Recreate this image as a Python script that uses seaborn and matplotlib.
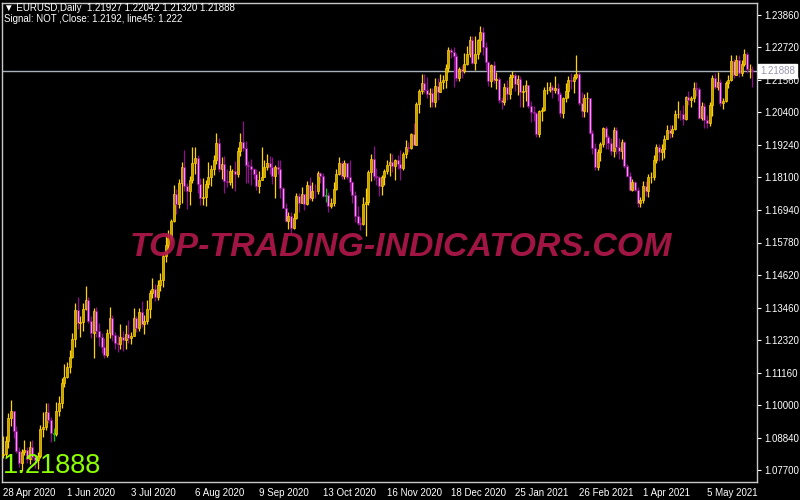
import matplotlib
matplotlib.use("Agg")
import matplotlib.pyplot as plt
import seaborn as sns

# EURUSD daily bars, 28 Apr 2020 .. 28 May 2021
symbol = "EURUSD,Daily"
last_ohlc = [1.21927, 1.22042, 1.21320, 1.21888]
first_open = 1.0822

closes = [
    1.0826, 1.0874, 1.0954, 1.0980, 1.0907, 1.0838, 1.0795, 1.0834, 1.0840, 1.0807,
    1.0850, 1.0816, 1.0804, 1.0819, 1.0916, 1.0922, 1.0975, 1.0947, 1.0900, 1.0899,
    1.0980, 1.1007, 1.1078, 1.1100, 1.1134, 1.1172, 1.1234, 1.1337, 1.1292, 1.1294,
    1.1343, 1.1373, 1.1300, 1.1256, 1.1333, 1.1264, 1.1242, 1.1205, 1.1178, 1.1257,
    1.1308, 1.1250, 1.1220, 1.1219, 1.1241, 1.1233, 1.1252, 1.1240, 1.1245, 1.1309,
    1.1275, 1.1330, 1.1288, 1.1300, 1.1342, 1.1398, 1.1413, 1.1383, 1.1428, 1.1445,
    1.1530, 1.1570, 1.1595, 1.1655, 1.1752, 1.1716, 1.1791, 1.1847, 1.1778, 1.1762,
    1.1799, 1.1862, 1.1877, 1.1787, 1.1736, 1.1738, 1.1786, 1.1812, 1.1840, 1.1870,
    1.1930, 1.1838, 1.1857, 1.1796, 1.1792, 1.1832, 1.1832, 1.1821, 1.1903, 1.1935,
    1.1913, 1.1855, 1.1850, 1.1838, 1.1821, 1.1777, 1.1801, 1.1812, 1.1846, 1.1861,
    1.1846, 1.1813, 1.1848, 1.1840, 1.1770, 1.1701, 1.1656, 1.1671, 1.1631, 1.1665,
    1.1745, 1.1720, 1.1750, 1.1715, 1.1782, 1.1735, 1.1762, 1.1760, 1.1826, 1.1813,
    1.1743, 1.1746, 1.1706, 1.1718, 1.1769, 1.1822, 1.1862, 1.1815, 1.1859, 1.1812,
    1.1794, 1.1747, 1.1673, 1.1646, 1.1642, 1.1715, 1.1723, 1.1828, 1.1875, 1.1815,
    1.1811, 1.1779, 1.1809, 1.1833, 1.1852, 1.1864, 1.1851, 1.1871, 1.1857, 1.1843,
    1.1893, 1.1916, 1.1914, 1.1962, 1.1926, 1.2070, 1.2116, 1.2145, 1.2120, 1.2107,
    1.2109, 1.2079, 1.2133, 1.2113, 1.2148, 1.2154, 1.2198, 1.2263, 1.2255, 1.2240,
    1.2163, 1.2193, 1.2186, 1.2214, 1.2247, 1.2298, 1.2216, 1.2248, 1.2298, 1.2327,
    1.2271, 1.2220, 1.2151, 1.2207, 1.2156, 1.2158, 1.2083, 1.2078, 1.2130, 1.2106,
    1.2166, 1.2172, 1.2140, 1.2159, 1.2113, 1.2116, 1.2136, 1.2062, 1.2041, 1.2038,
    1.1962, 1.2045, 1.2050, 1.2119, 1.2120, 1.2132, 1.2120, 1.2127, 1.2105, 1.2039,
    1.2091, 1.2118, 1.2155, 1.2151, 1.2167, 1.2175, 1.2075, 1.2046, 1.2090, 1.2091,
    1.1966, 1.1915, 1.1846, 1.1901, 1.1928, 1.1985, 1.1953, 1.1931, 1.1902, 1.1976,
    1.1916, 1.1904, 1.1934, 1.1851, 1.1815, 1.1765, 1.1794, 1.1764, 1.1718, 1.1728,
    1.1778, 1.1762, 1.1812, 1.1812, 1.1871, 1.1916, 1.1900, 1.1912, 1.1946, 1.1979,
    1.1966, 1.1983, 1.2036, 1.2036, 1.2033, 1.2016, 1.2096, 1.2083, 1.2091, 1.2126,
    1.2125, 1.2021, 1.2062, 1.2015, 1.2004, 1.2066, 1.2164, 1.2130, 1.2150, 1.2074,
    1.2080, 1.2145, 1.2155, 1.2224, 1.2174, 1.2225, 1.2180, 1.2213, 1.2249, 1.2193,
    1.2193, 1.21888,
]

highs = [
    1.0890, 1.0890, 1.0972, 1.1019, 1.0980, 1.0926, 1.0852, 1.0843, 1.0875, 1.0853,
    1.0872, 1.0875, 1.0817, 1.0835, 1.0928, 1.0975, 1.1008, 1.1009, 1.0957, 1.0920,
    1.1010, 1.1032, 1.1098, 1.1145, 1.1155, 1.1197, 1.1257, 1.1362, 1.1384, 1.1318,
    1.1362, 1.1422, 1.1385, 1.1316, 1.1347, 1.1350, 1.1292, 1.1258, 1.1240, 1.1272,
    1.1349, 1.1320, 1.1260, 1.1250, 1.1289, 1.1262, 1.1284, 1.1302, 1.1260, 1.1346,
    1.1318, 1.1346, 1.1371, 1.1320, 1.1375, 1.1410, 1.1452, 1.1430, 1.1446, 1.1469,
    1.1540, 1.1601, 1.1621, 1.1661, 1.1781, 1.1769, 1.1805, 1.1863, 1.1908, 1.1790,
    1.1815, 1.1916, 1.1916, 1.1890, 1.1808, 1.1808, 1.1800, 1.1864, 1.1853, 1.1888,
    1.1966, 1.1951, 1.1883, 1.1884, 1.1838, 1.1852, 1.1840, 1.1867, 1.1916, 1.1966,
    1.2011, 1.1937, 1.1868, 1.1876, 1.1843, 1.1838, 1.1831, 1.1917, 1.1871, 1.1893,
    1.1887, 1.1882, 1.1852, 1.1872, 1.1872, 1.1776, 1.1718, 1.1688, 1.1686, 1.1682,
    1.1753, 1.1754, 1.1775, 1.1749, 1.1797, 1.1810, 1.1794, 1.1786, 1.1831, 1.1830,
    1.1824, 1.1771, 1.1759, 1.1736, 1.1793, 1.1840, 1.1881, 1.1868, 1.1870, 1.1860,
    1.1870, 1.1798, 1.1760, 1.1707, 1.1669, 1.1741, 1.1770, 1.1836, 1.1891, 1.1920,
    1.1843, 1.1815, 1.1818, 1.1840, 1.1870, 1.1895, 1.1891, 1.1876, 1.1890, 1.1905,
    1.1901, 1.1941, 1.1935, 1.1966, 1.2004, 1.2077, 1.2122, 1.2176, 1.2177, 1.2167,
    1.2128, 1.2126, 1.2163, 1.2162, 1.2177, 1.2174, 1.2212, 1.2273, 1.2269, 1.2272,
    1.2250, 1.2200, 1.2210, 1.2250, 1.2276, 1.2310, 1.2310, 1.2310, 1.2302, 1.2349,
    1.2343, 1.2289, 1.2224, 1.2214, 1.2222, 1.2185, 1.2165, 1.2095, 1.2145, 1.2155,
    1.2175, 1.2189, 1.2180, 1.2173, 1.2169, 1.2138, 1.2156, 1.2138, 1.2082, 1.2062,
    1.2041, 1.2050, 1.2060, 1.2130, 1.2150, 1.2149, 1.2136, 1.2169, 1.2144, 1.2113,
    1.2095, 1.2144, 1.2170, 1.2180, 1.2177, 1.2243, 1.2183, 1.2113, 1.2107, 1.2114,
    1.2093, 1.1976, 1.1932, 1.1910, 1.1935, 1.1990, 1.1992, 1.1960, 1.1951, 1.1989,
    1.1990, 1.1950, 1.1946, 1.1940, 1.1858, 1.1830, 1.1803, 1.1795, 1.1776, 1.1739,
    1.1797, 1.1798, 1.1820, 1.1827, 1.1888, 1.1927, 1.1928, 1.1927, 1.1959, 1.1995,
    1.1994, 1.1994, 1.2048, 1.2080, 1.2050, 1.2068, 1.2100, 1.2116, 1.2100, 1.2150,
    1.2150, 1.2130, 1.2078, 1.2075, 1.2030, 1.2078, 1.2172, 1.2181, 1.2183, 1.2160,
    1.2093, 1.2152, 1.2172, 1.2245, 1.2230, 1.2243, 1.2245, 1.2228, 1.2266, 1.2254,
    1.2213, 1.22042,
]

lows = [
    1.0812, 1.0815, 1.0847, 1.0925, 1.0884, 1.0830, 1.0782, 1.0767, 1.0822, 1.0793,
    1.0790, 1.0806, 1.0775, 1.0774, 1.0812, 1.0887, 1.0910, 1.0936, 1.0870, 1.0871,
    1.0890, 1.0960, 1.0990, 1.1065, 1.1095, 1.1115, 1.1167, 1.1208, 1.1270, 1.1243,
    1.1263, 1.1338, 1.1292, 1.1239, 1.1168, 1.1243, 1.1211, 1.1186, 1.1168, 1.1170,
    1.1240, 1.1229, 1.1198, 1.1190, 1.1198, 1.1192, 1.1199, 1.1222, 1.1218, 1.1248,
    1.1260, 1.1262, 1.1276, 1.1254, 1.1290, 1.1310, 1.1380, 1.1370, 1.1374, 1.1404,
    1.1421, 1.1510, 1.1550, 1.1583, 1.1651, 1.1680, 1.1700, 1.1720, 1.1760, 1.1696,
    1.1711, 1.1790, 1.1822, 1.1755, 1.1713, 1.1711, 1.1709, 1.1773, 1.1780, 1.1819,
    1.1856, 1.1828, 1.1802, 1.1753, 1.1776, 1.1784, 1.1770, 1.1762, 1.1811, 1.1887,
    1.1904, 1.1789, 1.1790, 1.1781, 1.1803, 1.1765, 1.1753, 1.1800, 1.1812, 1.1836,
    1.1822, 1.1787, 1.1737, 1.1821, 1.1736, 1.1699, 1.1650, 1.1627, 1.1612, 1.1625,
    1.1660, 1.1685, 1.1717, 1.1695, 1.1710, 1.1730, 1.1726, 1.1735, 1.1751, 1.1789,
    1.1738, 1.1723, 1.1688, 1.1702, 1.1707, 1.1763, 1.1818, 1.1803, 1.1805, 1.1802,
    1.1760, 1.1717, 1.1650, 1.1640, 1.1622, 1.1640, 1.1602, 1.1711, 1.1795, 1.1800,
    1.1784, 1.1745, 1.1746, 1.1783, 1.1822, 1.1816, 1.1830, 1.1800, 1.1838, 1.1800,
    1.1834, 1.1879, 1.1900, 1.1910, 1.1924, 1.1925, 1.2039, 1.2106, 1.2108, 1.2092,
    1.2059, 1.2058, 1.2060, 1.2083, 1.2115, 1.2125, 1.2127, 1.2185, 1.2233, 1.2130,
    1.2153, 1.2153, 1.2163, 1.2181, 1.2208, 1.2238, 1.2213, 1.2192, 1.2231, 1.2254,
    1.2245, 1.2192, 1.2133, 1.2132, 1.2145, 1.2122, 1.2072, 1.2054, 1.2068, 1.2085,
    1.2088, 1.2128, 1.2116, 1.2101, 1.2058, 1.2059, 1.2080, 1.2055, 1.2007, 1.2011,
    1.1952, 1.1952, 1.2011, 1.2045, 1.2107, 1.2111, 1.2092, 1.2110, 1.2082, 1.2023,
    1.2022, 1.2078, 1.2090, 1.2125, 1.2110, 1.2158, 1.2065, 1.2023, 1.2023, 1.2040,
    1.1962, 1.1893, 1.1836, 1.1835, 1.1866, 1.1916, 1.1911, 1.1911, 1.1888, 1.1883,
    1.1893, 1.1873, 1.1876, 1.1842, 1.1810, 1.1760, 1.1762, 1.1760, 1.1705, 1.1704,
    1.1720, 1.1745, 1.1740, 1.1790, 1.1800, 1.1860, 1.1869, 1.1870, 1.1878, 1.1946,
    1.1950, 1.1953, 1.1978, 1.2020, 1.2014, 1.1995, 1.2012, 1.2067, 1.2060, 1.2078,
    1.2098, 1.2018, 1.2015, 1.1986, 1.1985, 1.1992, 1.2026, 1.2123, 1.2120, 1.2064,
    1.2052, 1.2079, 1.2127, 1.2152, 1.2161, 1.2172, 1.2165, 1.2168, 1.2205, 1.2180,
    1.2162, 1.21320,
]

signal_bars = [19, 121]   # green "signal" candles
date_labels = ["28 Apr 2020", "1 Jun 2020", "3 Jul 2020", "6 Aug 2020", "9 Sep 2020",
               "13 Oct 2020", "16 Nov 2020", "18 Dec 2020", "25 Jan 2021",
               "26 Feb 2021", "1 Apr 2021", "5 May 2021"]
price_ticks = [1.23860, 1.22720, 1.21560, 1.20400, 1.19240, 1.18100, 1.16940, 1.15780,
               1.14620, 1.13460, 1.12320, 1.11160, 1.10000, 1.08840, 1.07700]

opens = [first_open] + closes[:-1]
opens[-1] = last_ohlc[0]
n = len(closes)

sns.set_style("dark", {"axes.facecolor": "black", "figure.facecolor": "black"})
plt.rcParams["font.family"] = ["Liberation Sans", "DejaVu Sans"]

fig = plt.figure(figsize=(8, 5), dpi=100, facecolor="black")
ax = fig.add_axes([2 / 800, 18 / 500, 755 / 800, 479 / 500])
ax.set_facecolor("black")

wick_cols, body_cols = [], []
for i in range(n):
    if i in signal_bars:
        wick_cols.append("#00D000"); body_cols.append("#1E9E1E")
    elif closes[i] >= opens[i]:
        wick_cols.append("#FFD200"); body_cols.append("#C8A200")
    else:
        wick_cols.append("#8E0E8E"); body_cols.append("#FF8CFF")

xs = list(range(n))
wick_lo = [min(lows[i], opens[i], closes[i]) for i in xs]
wick_hi = [max(highs[i], opens[i], closes[i]) for i in xs]
ax.vlines(xs, wick_lo, wick_hi, colors=wick_cols, linewidth=0.9, zorder=2)
ax.bar(xs, [closes[i] - opens[i] for i in xs], bottom=opens, width=0.72,
       color=body_cols, edgecolor=wick_cols, linewidth=0.5, zorder=3)

# current price line + label box
ax.axhline(last_ohlc[3], color="#A8B2BC", linewidth=1, zorder=1)
ax.text(1.0 + 3 / 755, last_ohlc[3], f"{last_ohlc[3]:.5f}", transform=ax.get_yaxis_transform(),
        ha="left", va="center", fontsize=7, color="#9A94B0", clip_on=False,
        bbox=dict(boxstyle="square,pad=0.2", fc="white", ec="white"))

ax.set_xlim(-0.4, 282.75)
ax.set_ylim(1.0727, 1.2429)

ax.yaxis.tick_right()
ax.set_yticks(price_ticks)
ax.set_yticklabels([f"{p:.5f}" for p in price_ticks])
ax.set_xticks(range(0, n, 24))
ax.set_xticklabels(date_labels)
for lab in ax.get_xticklabels():
    lab.set_horizontalalignment("left")
ax.tick_params(axis="both", colors="white", labelsize=7, length=3, width=0.8,
               direction="out", pad=2)
ax.tick_params(axis="x", pad=1)
for s in ax.spines.values():
    s.set_color("#C8C8C8")
    s.set_linewidth(1)
ax.grid(False)

# watermark
ax.text(0.528, 0.49, "TOP-TRADING-INDICATORS.COM", transform=ax.transAxes,
        ha="center", va="center", fontsize=24.4, fontweight="bold", fontstyle="italic",
        color="#B0174C", alpha=0.92, zorder=5)

# header lines
fig.text(4 / 800, 1 - 8 / 500, "\u25bc " + symbol + "  " + " ".join(f"{v:.5f}" for v in last_ohlc),
         ha="left", va="center", fontsize=7, color="white")
fig.text(4 / 800, 1 - 19 / 500, "Signal: NOT ,Close: 1.2192, line45: 1.222",
         ha="left", va="center", fontsize=7, color="white")

# big price
fig.text(3 / 800, 1 - 466 / 500, f"{last_ohlc[3]:.5f}", ha="left", va="center",
         fontsize=19.5, color="#8CFF00", zorder=6)

fig.savefig("out.png", dpi=100, facecolor="black")
